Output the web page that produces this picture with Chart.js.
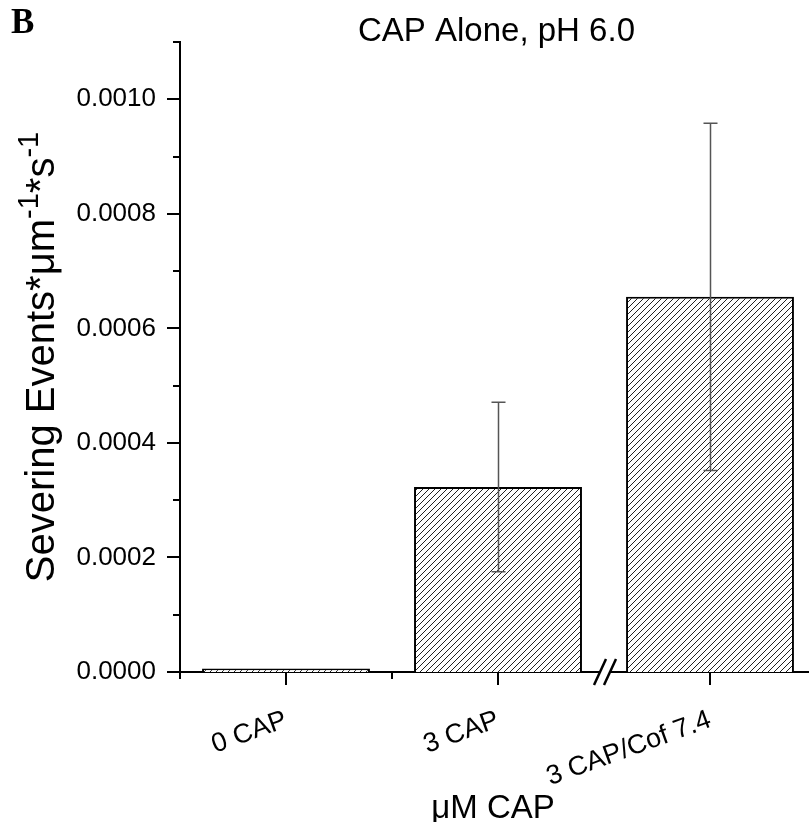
<!DOCTYPE html>
<html><head><meta charset="utf-8">
<script src="https://cdn.jsdelivr.net/npm/chart.js@4.4.1/dist/chart.umd.min.js"></script>
<style>html,body{margin:0;padding:0;background:#fff}#wrap{width:809px;height:822px;position:relative;overflow:hidden}</style>
</head><body><div id="wrap"><canvas id="c" width="809" height="822"></canvas></div>
<script>
const categories = ['0 CAP', '3 CAP', '3 CAP/Cof 7.4'];
const severingRates = [0.000006, 0.000323, 0.000655];
const severingErrors = [0, 0.000148, 0.000303];
const yTickValues = [0, 0.0002, 0.0004, 0.0006, 0.0008, 0.0010];
const yTickLabels = ['0.0000', '0.0002', '0.0004', '0.0006', '0.0008', '0.0010'];
const yMax = 0.0011;
const yMinorStep = 0.0001;
const chartTitle = 'CAP Alone, pH 6.0';
const panelLabel = 'B';
const xTitle = 'μM CAP';
// y title pieces: [text, isSuperscript]
const yTitleParts = [['Severing Events*μm', false], ['-1', true], ['*s', false], ['-1', true]];

const FONT = "'Liberation Sans', Arial, sans-serif";

// hatch pattern
const pc = document.createElement('canvas');
pc.width = 6; pc.height = 6;
const pctx = pc.getContext('2d');
pctx.fillStyle = '#fff'; pctx.fillRect(0, 0, 6, 6);
pctx.strokeStyle = '#222'; pctx.lineWidth = 1;
pctx.beginPath();
pctx.moveTo(-1, 7); pctx.lineTo(7, -1);
pctx.moveTo(-1, 1); pctx.lineTo(1, -1);
pctx.moveTo(5, 7); pctx.lineTo(7, 5);
pctx.stroke();

const canvas = document.getElementById('c');
const ctx = canvas.getContext('2d');
const hatch = ctx.createPattern(pc, 'repeat');

// the x axis runs past the right edge of the picture (axis break), so widen it a little
const widenX = {
  id: 'widenX',
  afterLayout(chart) {
    const xs = chart.scales.x;
    xs.right = xs.left + 636;
    xs.width = 636;
    xs.configure();
  }
};

const decor = {
  id: 'decor',
  afterDraw(chart) {
    const c = chart.ctx;
    const xs = chart.scales.x, ys = chart.scales.y;
    const area = chart.chartArea;
    c.save();
    c.strokeStyle = '#000';
    c.lineWidth = 2;
    c.lineCap = 'butt';
    // y ticks (major + minor)
    const n = Math.round(yMax / yMinorStep);
    for (let k = 0; k <= n; k++) {
      const y = Math.round(ys.getPixelForValue(k * yMinorStep));
      const len = (k % 2 === 0) ? 13 : 7;
      c.beginPath(); c.moveTo(area.left, y); c.lineTo(area.left - len, y); c.stroke();
    }
    // x ticks
    const cx = categories.map((_, i) => xs.getPixelForValue(i));
    cx.forEach(x => { c.beginPath(); c.moveTo(Math.round(x), area.bottom); c.lineTo(Math.round(x), area.bottom + 13); c.stroke(); });
    const minors = [area.left, (cx[0] + cx[1]) / 2];
    minors.forEach(x => { c.beginPath(); c.moveTo(Math.round(x), area.bottom); c.lineTo(Math.round(x), area.bottom + 7); c.stroke(); });
    // axis break
    const bx = (cx[1] + cx[2]) / 2 + 1;
    const by = area.bottom;
    c.fillStyle = '#fff';
    c.fillRect(bx - 4, by - 3, 9, 6);
    c.lineWidth = 2.5;
    [-5, 5].forEach(d => {
      c.beginPath(); c.moveTo(bx + d - 6, by + 13); c.lineTo(bx + d + 6, by - 13); c.stroke();
    });
    // error bars
    c.strokeStyle = '#555';
    c.lineWidth = 1.5;
    severingRates.forEach((v, i) => {
      const e = severingErrors[i];
      if (!e) return;
      const x = Math.round(cx[i]) + 0.5;
      const yt = ys.getPixelForValue(v + e), yb = ys.getPixelForValue(v - e);
      c.beginPath();
      c.moveTo(x, yt); c.lineTo(x, yb);
      c.moveTo(x - 7, yt); c.lineTo(x + 7, yt);
      c.moveTo(x - 7, yb); c.lineTo(x + 7, yb);
      c.stroke();
    });
    // title
    c.fillStyle = '#000';
    c.font = '33px ' + FONT;
    c.textAlign = 'center';
    c.textBaseline = 'alphabetic';
    c.fillText(chartTitle, (area.left + 809) / 2 + 2, 41);
    // x axis title
    c.font = '33px ' + FONT;
    c.fillText(xTitle, 493, 818);
    // panel label
    c.font = "bold 35px 'Liberation Serif', 'Times New Roman', serif";
    c.textAlign = 'left';
    c.fillText(panelLabel, 11, 33);
    // y axis title with superscripts
    const mainF = '40px ' + FONT, supF = '29px ' + FONT;
    let total = 0;
    yTitleParts.forEach(([t, sup]) => { c.font = sup ? supF : mainF; total += c.measureText(t).width; });
    c.translate(54, (area.top + area.bottom) / 2);
    c.rotate(-Math.PI / 2);
    let px = -total / 2;
    yTitleParts.forEach(([t, sup]) => {
      c.font = sup ? supF : mainF;
      c.fillText(t, px, sup ? -16 : 0);
      px += c.measureText(t).width;
    });
    c.restore();
  }
};

new Chart(canvas, {
  type: 'bar',
  data: {
    labels: categories,
    datasets: [{
      data: severingRates,
      backgroundColor: hatch,
      borderColor: '#000',
      borderWidth: 2,
      categoryPercentage: 1,
      barPercentage: 0.792
    }]
  },
  options: {
    responsive: false,
    animation: false,
    devicePixelRatio: 1,
    layout: { padding: { top: 42, left: 0, right: 0, bottom: 0 } },
    plugins: { legend: { display: false }, tooltip: { enabled: false }, title: { display: false } },
    scales: {
      x: {
        grid: { display: false, drawTicks: false },
        border: { display: true, color: '#000', width: 2 },
        ticks: {
          color: '#000', font: { family: FONT, size: 27 },
          minRotation: 20, maxRotation: 20, autoSkip: false, padding: 32
        },
        afterFit(s) { s.height = 150; }
      },
      y: {
        min: 0, max: yMax,
        grid: { display: false, drawTicks: false },
        border: { display: true, color: '#000', width: 2 },
        ticks: {
          stepSize: yMinorStep, autoSkip: false,
          color: '#000', font: { family: FONT, size: 26 }, padding: 24,
          callback(v) {
            const i = yTickValues.findIndex(t => Math.abs(t - v) < 1e-9);
            return i >= 0 ? yTickLabels[i] : '';
          }
        },
        afterFit(s) { s.width = 180; }
      }
    }
  },
  plugins: [widenX, decor]
});
</script></body></html>
